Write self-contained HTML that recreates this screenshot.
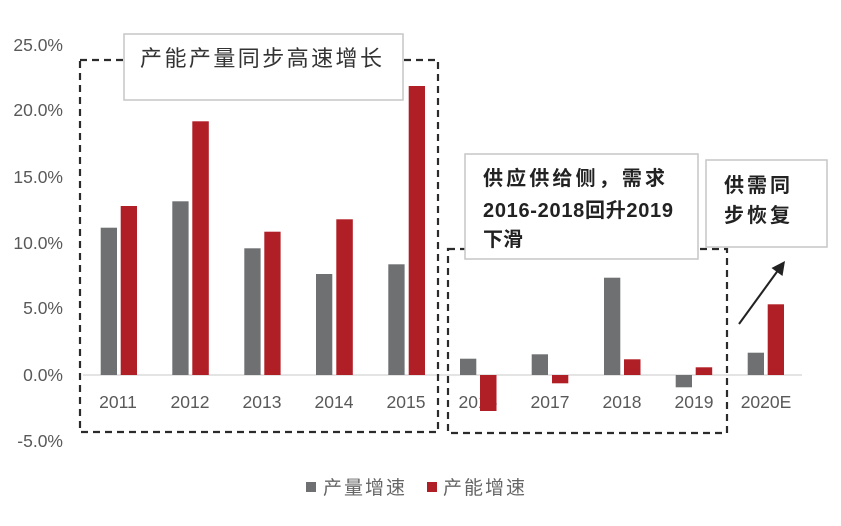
<!DOCTYPE html>
<html><head><meta charset="utf-8"><style>
html,body{margin:0;padding:0;background:#fff;}
svg{display:block;}
</style></head><body>
<svg width="841" height="526" viewBox="0 0 841 526" xmlns="http://www.w3.org/2000/svg">
<rect width="841" height="526" fill="#fff"/>
<!-- y labels -->
<g font-family="Liberation Sans, sans-serif" font-size="17.5" fill="#595959" text-anchor="end">
<text x="63" y="51">25.0%</text>
<text x="63" y="116">20.0%</text>
<text x="63" y="183">15.0%</text>
<text x="63" y="249">10.0%</text>
<text x="63" y="314">5.0%</text>
<text x="63" y="381">0.0%</text>
<text x="63" y="447">-5.0%</text>
</g>
<!-- zero line -->
<line x1="83" y1="375" x2="802" y2="375" stroke="#d4d4d4" stroke-width="1.2"/>
<!-- x labels -->
<g font-family="Liberation Sans, sans-serif" font-size="17.5" fill="#595959" text-anchor="middle">
<text x="118" y="408">2011</text>
<text x="190" y="408">2012</text>
<text x="262" y="408">2013</text>
<text x="334" y="408">2014</text>
<text x="406" y="408">2015</text>
<text x="478" y="408">2016</text>
<text x="550" y="408">2017</text>
<text x="622" y="408">2018</text>
<text x="694" y="408">2019</text>
<text x="766" y="408">2020E</text>
</g>
<!-- grey bars -->
<g fill="#6e7071">
<rect x="100.7" y="227.7" width="16.3" height="147.3"/>
<rect x="172.3" y="201.3" width="16.3" height="173.7"/>
<rect x="244.3" y="248.3" width="16.3" height="126.7"/>
<rect x="316" y="274" width="16.3" height="101"/>
<rect x="388.3" y="264.3" width="16.3" height="110.7"/>
<rect x="460" y="358.7" width="16.3" height="16.3"/>
<rect x="531.7" y="354.3" width="16.3" height="20.7"/>
<rect x="604" y="277.7" width="16.3" height="97.3"/>
<rect x="675.7" y="375" width="16.3" height="12.3"/>
<rect x="747.7" y="352.7" width="16.3" height="22.3"/>
</g>
<!-- red bars -->
<g fill="#b01e26">
<rect x="120.7" y="206" width="16.3" height="169"/>
<rect x="192.3" y="121.3" width="16.5" height="253.7"/>
<rect x="264.3" y="231.7" width="16.3" height="143.3"/>
<rect x="336.3" y="219.3" width="16.5" height="155.7"/>
<rect x="408.7" y="86" width="16.3" height="289"/>
<rect x="480" y="375" width="16.5" height="36"/>
<rect x="552" y="375" width="16.3" height="8.3"/>
<rect x="624" y="359.3" width="16.5" height="15.7"/>
<rect x="695.7" y="367.3" width="16.5" height="7.7"/>
<rect x="767.7" y="304.3" width="16.3" height="70.7"/>
</g>
<!-- dashed boxes -->
<g fill="none" stroke="#2b2b2b" stroke-width="2.2" stroke-dasharray="7 5">
<rect x="80" y="60" width="358" height="372"/>
<rect x="448" y="249" width="279" height="184"/>
</g>
<!-- annotation boxes -->
<rect x="124" y="34" width="279" height="66" fill="#fff" stroke="#c6c6c6" stroke-width="1.5"/>
<rect x="465" y="154" width="233" height="105" fill="#fff" stroke="#c6c6c6" stroke-width="1.5"/>
<rect x="706" y="160" width="121" height="87" fill="#fff" stroke="#c6c6c6" stroke-width="1.5"/>
<g font-family="Liberation Sans, 'Noto Sans CJK SC', sans-serif" fill="#333">
<text x="140" y="66" font-size="22" textLength="242" lengthAdjust="spacing">产能产量同步高速增长</text>
</g>
<g font-family="Liberation Sans, 'Noto Sans CJK SC', sans-serif" fill="#222" font-weight="bold" font-size="20">
<text x="483" y="185" textLength="182" lengthAdjust="spacing">供应供给侧，需求</text>
<text x="483" y="217" textLength="190" lengthAdjust="spacing">2016-2018回升2019</text>
<text x="483" y="246">下滑</text>
<text x="724" y="192" textLength="66" lengthAdjust="spacing">供需同</text>
<text x="724" y="222" textLength="66" lengthAdjust="spacing">步恢复</text>
</g>
<!-- arrow -->
<line x1="739" y1="324" x2="779" y2="269" stroke="#222" stroke-width="2"/>
<polygon points="785,261 782.5,276 771.5,268" fill="#222"/>
<!-- legend -->
<rect x="306" y="482" width="10" height="10" fill="#6e7071"/>
<rect x="427" y="482" width="10" height="10" fill="#b01e26"/>
<g font-family="Liberation Sans, 'Noto Sans CJK SC', sans-serif" fill="#666" font-size="19">
<text x="323" y="494" textLength="82" lengthAdjust="spacing">产量增速</text>
<text x="443" y="494" textLength="82" lengthAdjust="spacing">产能增速</text>
</g>
</svg>
</body></html>
